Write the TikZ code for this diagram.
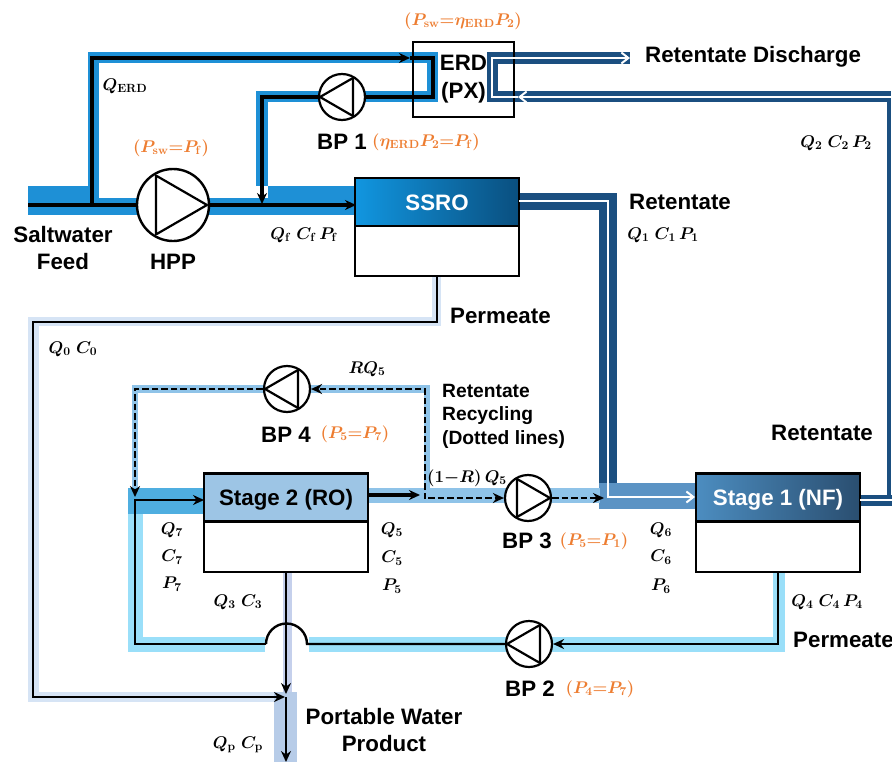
\documentclass[tikz,border=0pt]{standalone}
\usepackage{fix-cm}
\usepackage[no-math]{fontspec}
\setmainfont{Liberation Sans}
\usetikzlibrary{arrows.meta}
\definecolor{pipeblue}{HTML}{1E90D6}
\definecolor{pipenavy}{HTML}{1B4F80}
\definecolor{pipemid}{HTML}{5B93C4}
\definecolor{pipesky}{HTML}{8FC3E8}
\definecolor{pipecyan}{HTML}{9ADFF9}
\definecolor{pipedeep}{HTML}{4FAEE0}
\definecolor{pipepale}{HTML}{D6E4F5}
\definecolor{pipeprod}{HTML}{B7CCE8}
\definecolor{pipelav}{HTML}{C5D0EC}
\definecolor{labelorange}{HTML}{ED7D31}
\definecolor{ssroleft}{HTML}{1196E0}
\definecolor{ssroright}{HTML}{0A4F7F}
\definecolor{stagetwofill}{HTML}{9DC5E5}
\definecolor{nfleft}{HTML}{4C8DC0}
\definecolor{nfright}{HTML}{2A4E70}
\newcommand{\fbig}{\bfseries\fontsize{22.4}{28}\selectfont}
\newcommand{\fsmall}{\bfseries\fontsize{19.3}{23.5}\selectfont}
\newcommand{\fsym}{\fontsize{17}{20}\selectfont\boldmath}
% triangle inside a pump, tip at the given angle
\newcommand{\pumptri}[3]{\draw[line width=2.2bp,line join=round] ([shift={(#2:#3)}]#1.center) -- ([shift={(#2+120:#3)}]#1.center) -- ([shift={(#2-120:#3)}]#1.center) -- cycle;}
\tikzset{
  flow/.style={line width=3.2bp,line join=miter},
  thinflow/.style={line width=2.4bp,line join=miter},
  tipflow/.style={-{Stealth[length=11bp,width=10bp]}},
  dashflow/.style={line width=2.2bp,dash pattern=on 6.5bp off 3bp},
  whiteflow/.style={white,line width=2bp},
  tipwhite/.style={-{Straight Barb[length=7bp,width=11bp]}},
  bigpump/.style={circle,draw,fill=white,line width=2.4bp,minimum size=72bp,inner sep=0pt},
  smallpump/.style={circle,draw,fill=white,line width=2.2bp,minimum size=46bp,inner sep=0pt},
  unithead/.style={draw,line width=2.6bp,minimum width=164bp,minimum height=48bp,inner sep=0pt,text height=18bp,text depth=2bp,font=\fbig},
  unitfoot/.style={draw,fill=white,line width=2.2bp,minimum width=164bp,minimum height=50bp,inner sep=0pt},
  name label/.style={font=\fbig,inner sep=0pt,align=center},
  small label/.style={font=\fsmall,inner sep=0pt,align=left},
  sym label/.style={font=\fsym,inner sep=0pt},
  press label/.style={font=\fsym,inner sep=0pt,text=labelorange}
}
\begin{document}
\begin{tikzpicture}[x=1bp,y=-1bp]
  \useasboundingbox (0,0) rectangle (892,762);

  % Feed bands (blue)
  \fill[pipeblue] (28,186) rectangle (88,215);
  \fill[pipeblue] (88,198) rectangle (268,215);
  \fill[pipeblue] (268,186) rectangle (356,215);
  \fill[pipeblue] (88,52) rectangle (99,198);
  \fill[pipeblue] (88,52) rectangle (438,63);
  \fill[pipeblue] (427,52) rectangle (438,102);
  \fill[pipeblue] (256,91) rectangle (438,102);
  \fill[pipeblue] (256,91) rectangle (268,186);

  % Retentate bands (navy)
  \fill[pipenavy] (487,52) rectangle (630,64);
  \fill[pipenavy] (487,52) rectangle (498,102);
  \fill[pipenavy] (487,91) rectangle (891,102);
  \fill[pipenavy] (887,91) rectangle (891,505.5);
  \fill[pipenavy] (860,494.5) rectangle (892,505.5);
  \fill[pipenavy] (519,193) rectangle (617,210);
  \fill[pipenavy] (599,193) rectangle (617,483);
  \fill[pipemid] (599,483) rectangle (696,509);

  % Permeate of SSRO (pale)
  \fill[pipepale] (432,276) rectangle (441,326);
  \fill[pipepale] (28,317) rectangle (441,326);
  \fill[pipepale] (28,317) rectangle (39,702);
  \fill[pipepale] (28,692) rectangle (275,702);

  % Stage 2 outlet and recycling (sky)
  \fill[pipesky] (368,488) rectangle (600,503);
  \fill[pipesky] (424,385) rectangle (430,503);
  \fill[pipesky] (132,385) rectangle (430,393);
  \fill[pipesky] (132,385) rectangle (138,488);

  % Stage 1 permeate back to Stage 2 (cyan)
  \fill[pipecyan] (773,572) rectangle (785,652);
  \fill[pipecyan] (309,637) rectangle (785,652);
  \fill[pipecyan] (128,637) rectangle (265,652);
  \fill[pipecyan] (128,514) rectangle (143,652);
  \fill[pipedeep] (128,488) rectangle (204,514);

  % Product
  \fill[pipelav] (283,572) rectangle (292,692);
  \fill[pipeprod] (274,692) rectangle (297,762);

  % Units
  \node[bigpump] (hpp) at (173,205) {};
  \node[smallpump] (bpone) at (342,97) {};
  \node[smallpump] (bptwo) at (529,644) {};
  \node[smallpump] (bpthree) at (528,498) {};
  \node[smallpump] (bpfour) at (287,389) {};
  \pumptri{hpp}{0}{34}
  \pumptri{bpone}{180}{22}
  \pumptri{bptwo}{180}{22}
  \pumptri{bpthree}{0}{22}
  \pumptri{bpfour}{180}{22}

  \node[unithead,left color=ssroleft,right color=ssroright,text=white] (ssro) at (437,202) {SSRO};
  \node[unitfoot] (ssrofoot) at (437,251) {};
  \node[unithead,fill=stagetwofill] (stagetwo) at (286,497.5) {Stage 2 (RO)};
  \node[unitfoot] (stagetwofoot) at (286,547) {};
  \node[unithead,left color=nfleft,right color=nfright,text=white] (stageone) at (778,497.5) {Stage 1 (NF)};
  \node[unitfoot] (stageonefoot) at (778,547) {};
  \node[draw,line width=2.2bp,minimum width=101bp,minimum height=75bp,inner sep=0pt,font=\fbig,align=center] (erd) at (463.5,79.5) {ERD\\(PX)};

  % Free ends and corners
  \coordinate (feedin) at (28,205);
  \coordinate (split) at (92,205);
  \coordinate (erdtop) at (92,58);
  \coordinate (erdtip) at (410,58);
  \coordinate (erdturn) at (433,58);
  \coordinate (erdlow) at (433,97);
  \coordinate (mixtop) at (262,97);
  \coordinate (mixtip) at (262,204);
  \coordinate (ssroin) at (356,205);
  \coordinate (outa) at (519,201);
  \coordinate (outb) at (608,201);
  \coordinate (outc) at (608,497);
  \coordinate (nfin) at (695,497);
  \coordinate (nfout) at (860,499.5);
  \coordinate (edgelow) at (892,499.5);
  \coordinate (edgeup) at (892,97);
  \coordinate (pxin) at (518,97);
  \coordinate (pxturn) at (492,97);
  \coordinate (pxup) at (492,58);
  \coordinate (dischtip) at (630,58);
  \coordinate (pera) at (437,276);
  \coordinate (perb) at (437,322);
  \coordinate (perc) at (33,322);
  \coordinate (perd) at (33,697);
  \coordinate (pere) at (285,697);
  \coordinate (proda) at (286,572);
  \coordinate (prodb) at (286,694);
  \coordinate (prodc) at (286,697);
  \coordinate (prodd) at (286,762);
  \coordinate (stageoneout) at (778,572);
  \coordinate (backcorner) at (778,644);
  \coordinate (humpr) at (307,644);
  \coordinate (humpl) at (266,644);
  \coordinate (backleft) at (135,644);
  \coordinate (backup) at (135,500);
  \coordinate (rotip) at (204,500);
  \coordinate (roout) at (368,495);
  \coordinate (rotip2) at (420,495);
  \coordinate (reca) at (425,499);
  \coordinate (recb) at (425,389);
  \coordinate (recc) at (135,389);
  \coordinate (recd) at (135,497);
  \coordinate (bpthreein) at (428,498);
  \coordinate (jointip) at (604,498);

  % Feed connectors
  \draw[flow] (feedin) -- (hpp.west);
  \draw[flow,tipflow] (hpp.east) -- (ssroin);
  \draw[flow,tipflow] (split) -- (erdtop) -- (erdtip);
  \draw[flow] (erdtip) -- (erdturn) -- (erdlow) -- (bpone.east);
  \draw[flow,tipflow] (bpone.west) -- (mixtop) -- (mixtip);

  % Retentate connectors (white)
  \draw[whiteflow,tipwhite] (outa) -- (outb) -- (outc) -- (nfin);
  \draw[whiteflow] (nfout) -- (edgelow);
  \draw[whiteflow,tipwhite] (edgeup) -- (pxin);
  \draw[whiteflow,tipwhite] (pxin) -- (pxturn) -- (pxup) -- (dischtip);

  % Permeate connectors
  \draw[thinflow,tipflow] (pera) -- (perb) -- (perc) -- (perd) -- (pere);
  \draw[thinflow,tipflow] (proda) -- (prodb);
  \draw[thinflow,tipflow] (prodc) -- (prodd);
  \draw[thinflow,tipflow] (stageoneout) -- (backcorner) -- (bptwo.east);
  \draw[thinflow] (bptwo.west) -- (humpr) arc[start angle=0,end angle=180,radius=20.5bp];
  \draw[thinflow,tipflow] (humpl) -- (backleft) -- (backup) -- (rotip);
  \draw[flow,tipflow] (roout) -- (rotip2);

  % Dotted lines
  \draw[dashflow,tipflow] (reca) -- (recb) -- (bpfour.east);
  \draw[dashflow,tipflow] (bpfour.west) -- (recc) -- (recd);
  \draw[dashflow,tipflow] (bpthreein) -- (bpthree.west);
  \draw[dashflow,tipflow] (bpthree.east) -- (jointip);

  % Names
  \node[name label] (feedtxt) at (63,248) {Saltwater\\Feed};
  \node[name label] (hpptxt) at (173,262) {HPP};
  \node[name label] (bponetxt) at (342,142) {BP 1};
  \node[name label] (bptwotxt) at (530,689) {BP 2};
  \node[name label] (bpthreetxt) at (527,541) {BP 3};
  \node[name label] (bpfourtxt) at (286,435) {BP 4};
  \node[name label,anchor=west] (dischtxt) at (645,57) {Retentate Discharge};
  \node[name label,anchor=west] (rettxta) at (629,202) {Retentate};
  \node[name label,anchor=west] (rettxtb) at (771,433) {Retentate};
  \node[name label,anchor=west] (pertxta) at (450,316) {Permeate};
  \node[name label,anchor=west] (pertxtb) at (793,640) {Permeate};
  \node[name label] (prodtxt) at (384,730) {Portable Water\\Product};
  \node[small label,anchor=west] (rectxt) at (442,416) {Retentate\\Recycling\\(Dotted lines)};

  % Pressure relations
  \node[press label] (presserd) at (463,21) {$(P_{\mathrm{sw}}{=}\eta_{\mathrm{ERD}}P_2)$};
  \node[press label] (presshpp) at (171,148) {$(P_{\mathrm{sw}}{=}P_{\mathrm{f}})$};
  \node[press label] (pressbpone) at (426,142) {$(\eta_{\mathrm{ERD}}P_2{=}P_{\mathrm{f}})$};
  \node[press label] (pressbpfour) at (355,434) {$(P_5{=}P_7)$};
  \node[press label] (pressbpthree) at (594,541) {$(P_5{=}P_1)$};
  \node[press label] (pressbptwo) at (600,689) {$(P_4{=}P_7)$};

  % Flow symbols
  \node[sym label] (qerd) at (125,86) {$Q_{\mathrm{ERD}}$};
  \node[sym label] (qf) at (304,235) {$Q_{\mathrm{f}}\;C_{\mathrm{f}}\,P_{\mathrm{f}}$};
  \node[sym label] (qtwo) at (836,143) {$Q_2\;C_2\,P_2$};
  \node[sym label] (qone) at (663,235) {$Q_1\;C_1\,P_1$};
  \node[sym label] (qzero) at (73,349) {$Q_0\;C_0$};
  \node[sym label] (rqfive) at (367,369) {$RQ_5$};
  \node[sym label] (oneminus) at (467,478) {$(1{-}R)\,Q_5$};
  \node[sym label] (qsix) at (661,530) {$Q_6$};
  \node[sym label] (csix) at (661,557) {$C_6$};
  \node[sym label] (psix) at (661,586) {$P_6$};
  \node[sym label] (qseven) at (172,530) {$Q_7$};
  \node[sym label] (cseven) at (172,557) {$C_7$};
  \node[sym label] (pseven) at (172,584) {$P_7$};
  \node[sym label] (qfive) at (392,530) {$Q_5$};
  \node[sym label] (cfive) at (392,558) {$C_5$};
  \node[sym label] (pfive) at (392,586) {$P_5$};
  \node[sym label] (qthree) at (238,602) {$Q_3\;C_3$};
  \node[sym label] (qfour) at (827,602) {$Q_4\;C_4\,P_4$};
  \node[sym label] (qp) at (238,745) {$Q_{\mathrm{p}}\;C_{\mathrm{p}}$};
\end{tikzpicture}
\end{document}
